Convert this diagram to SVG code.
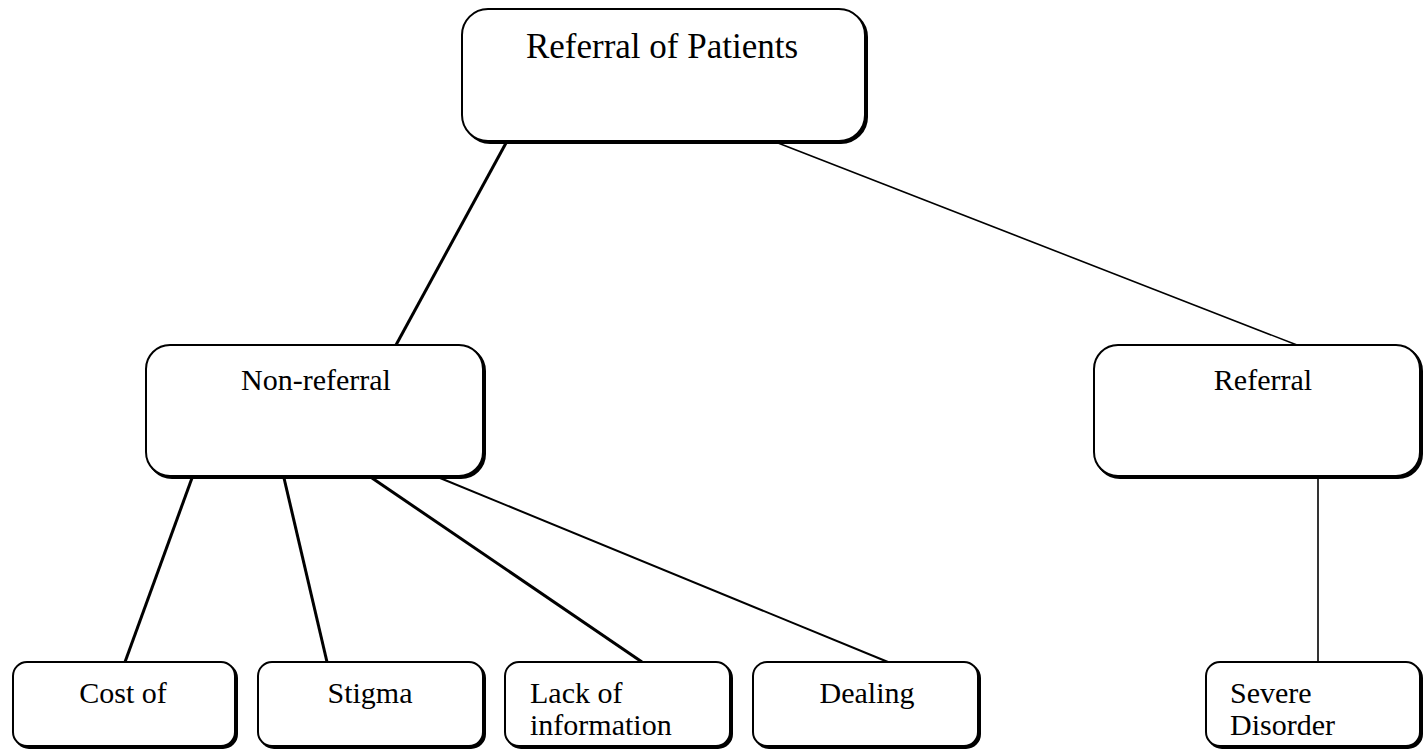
<svg xmlns="http://www.w3.org/2000/svg" width="1423" height="751" viewBox="0 0 1423 751">
<style>
.sh{fill:#000;stroke:#000;stroke-width:2}
.bx{fill:#fff;stroke:#000;stroke-width:2}
.t{font-family:'Liberation Serif',Tinos,'Times New Roman',Times,'DejaVu Serif',serif;fill:#000;font-size:30px}
.big{font-size:35px}
.tc{text-anchor:middle}
.c{stroke:#000;fill:none}
</style>
<rect x="0" y="0" width="1423" height="751" fill="#fff"/>
<g id="connectors">
<line class="c" x1="506" y1="143" x2="396" y2="345" stroke-width="3"/>
<line class="c" x1="778" y1="143" x2="1297" y2="345" stroke-width="1.6"/>
<line class="c" x1="192" y1="478" x2="125" y2="662" stroke-width="3"/>
<line class="c" x1="284" y1="478" x2="327" y2="662" stroke-width="3"/>
<line class="c" x1="372" y1="478" x2="642" y2="662" stroke-width="3"/>
<line class="c" x1="440" y1="478" x2="888" y2="662" stroke-width="2"/>
<line class="c" x1="1318" y1="478" x2="1318" y2="662" stroke-width="1.6"/>
</g>
<g id="n-top">
<rect class="sh" x="464" y="11" width="403" height="132" rx="26"/>
<rect class="bx" x="462" y="9" width="403" height="132" rx="26"/>
<text class="t tc big" x="662" y="58">Referral of Patients</text>
</g>
<g id="n-nonreferral">
<rect class="sh" x="148" y="347" width="337" height="131" rx="24"/>
<rect class="bx" x="146" y="345" width="337" height="131" rx="24"/>
<text class="t tc" x="316" y="390">Non-referral</text>
</g>
<g id="n-referral">
<rect class="sh" x="1096" y="347" width="326" height="131" rx="24"/>
<rect class="bx" x="1094" y="345" width="326" height="131" rx="24"/>
<text class="t tc" x="1263" y="390">Referral</text>
</g>
<g id="n-cost">
<rect class="sh" x="15" y="664" width="222" height="84" rx="14"/>
<rect class="bx" x="13" y="662" width="222" height="84" rx="14"/>
<text class="t tc" x="123" y="703">Cost of</text>
</g>
<g id="n-stigma">
<rect class="sh" x="260" y="664" width="225" height="84" rx="14"/>
<rect class="bx" x="258" y="662" width="225" height="84" rx="14"/>
<text class="t tc" x="370" y="703">Stigma</text>
</g>
<g id="n-lack">
<rect class="sh" x="507" y="664" width="225" height="84" rx="14"/>
<rect class="bx" x="505" y="662" width="225" height="84" rx="14"/>
<text class="t" x="530" y="703">Lack of</text>
<text class="t" x="530" y="735">information</text>
</g>
<g id="n-dealing">
<rect class="sh" x="755" y="664" width="225" height="84" rx="14"/>
<rect class="bx" x="753" y="662" width="225" height="84" rx="14"/>
<text class="t tc" x="867" y="703">Dealing</text>
</g>
<g id="n-severe">
<rect class="sh" x="1208" y="664" width="214" height="84" rx="14"/>
<rect class="bx" x="1206" y="662" width="214" height="84" rx="14"/>
<text class="t" x="1230" y="703">Severe</text>
<text class="t" x="1230" y="735">Disorder</text>
</g>
</svg>
